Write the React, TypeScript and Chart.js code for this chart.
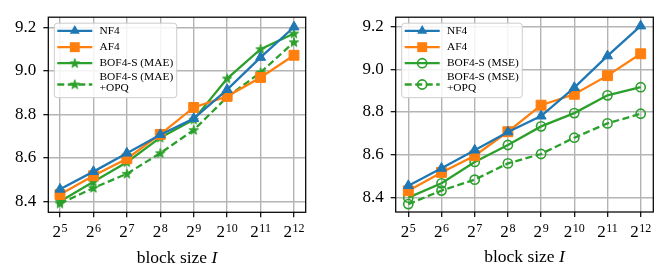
import React, { useEffect, useRef } from 'react';
import { Chart, registerables } from 'chart.js';

Chart.register(...registerables);

// ---------- data ----------
const exponents = [5, 6, 7, 8, 9, 10, 11, 12];
const yTickValues = [8.4, 8.6, 8.8, 9.0, 9.2];

const nf4 = [8.456, 8.537, 8.622, 8.707, 8.781, 8.914, 9.062, 9.202];
const af4 = [8.432, 8.518, 8.596, 8.708, 8.832, 8.883, 8.970, 9.072];
const bofMae = [8.400, 8.490, 8.580, 8.693, 8.776, 8.965, 9.100, 9.172];
const bofMaeOpq = [8.390, 8.462, 8.527, 8.622, 8.728, 8.880, 8.993, 9.132];
const bofMse = [8.400, 8.467, 8.567, 8.646, 8.733, 8.795, 8.878, 8.916];
const bofMseOpq = [8.370, 8.433, 8.484, 8.560, 8.604, 8.680, 8.747, 8.792];

const labelsMae = [['NF4'], ['AF4'], ['BOF4-S (MAE)'], ['BOF4-S (MAE)', '+OPQ']];
const labelsMse = [['NF4'], ['AF4'], ['BOF4-S (MSE)'], ['BOF4-S (MSE)', '+OPQ']];

const xTitle = 'block size ';
const xTitleVar = 'I';
const tickBase = '2';

// ---------- styles ----------
const BLUE = '#1f77b4';
const ORANGE = '#ff7f0e';
const GREEN = '#2ca02c';
const FONT = '"Liberation Serif", "Times New Roman", serif';
const LINE_W = 2.3;
const DASH = [7, 3.5];

function makeStar(color: string): HTMLCanvasElement {
  const c = document.createElement('canvas');
  const s = 12;
  c.width = s;
  c.height = s;
  const ctx = c.getContext('2d')!;
  const cx = s / 2;
  const cy = s / 2 + 0.3;
  const ro = 4.9;
  const ri = 1.9;
  ctx.beginPath();
  for (let i = 0; i < 10; i++) {
    const r = i % 2 === 0 ? ro : ri;
    const a = -Math.PI / 2 + (i * Math.PI) / 5;
    const px = cx + r * Math.cos(a);
    const py = cy + r * Math.sin(a);
    if (i === 0) ctx.moveTo(px, py);
    else ctx.lineTo(px, py);
  }
  ctx.closePath();
  ctx.fillStyle = color;
  ctx.fill();
  ctx.strokeStyle = color;
  ctx.lineWidth = 1;
  ctx.stroke();
  return c;
}

type Marker = 'triangle' | 'rect' | 'star' | 'circle';

interface SeriesDef {
  values: number[];
  color: string;
  marker: Marker;
  dashed: boolean;
}

function datasetFor(s: SeriesDef, label: string, star: HTMLCanvasElement) {
  const base: any = {
    label,
    data: exponents.map((e, i) => ({ x: e, y: s.values[i] })),
    borderColor: s.color,
    backgroundColor: s.color,
    borderWidth: LINE_W,
    borderDash: s.dashed ? DASH : [],
    fill: false,
    tension: 0,
    pointBorderColor: s.color,
    pointBackgroundColor: s.color,
    pointBorderWidth: 1,
  };
  if (s.marker === 'triangle') {
    base.pointStyle = 'triangle';
    base.pointRadius = 5.8;
  } else if (s.marker === 'rect') {
    base.pointStyle = 'rect';
    base.pointRadius = 7;
  } else if (s.marker === 'star') {
    base.pointStyle = star;
    base.pointRadius = 6;
  } else {
    base.pointStyle = 'circle';
    base.pointRadius = 4.6;
    base.pointBackgroundColor = 'rgba(0,0,0,0)';
    base.pointBorderWidth = 1.6;
  }
  return base;
}

function drawMarker(ctx: CanvasRenderingContext2D, s: SeriesDef, x: number, y: number, star: HTMLCanvasElement) {
  ctx.save();
  ctx.setLineDash([]);
  ctx.fillStyle = s.color;
  ctx.strokeStyle = s.color;
  if (s.marker === 'triangle') {
    const r = 5.8;
    ctx.beginPath();
    for (let i = 0; i < 3; i++) {
      const a = -Math.PI / 2 + (i * 2 * Math.PI) / 3;
      const px = x + r * Math.cos(a);
      const py = y + r * Math.sin(a);
      if (i === 0) ctx.moveTo(px, py);
      else ctx.lineTo(px, py);
    }
    ctx.closePath();
    ctx.fill();
  } else if (s.marker === 'rect') {
    const h = 7 * Math.SQRT1_2;
    ctx.fillRect(x - h, y - h, 2 * h, 2 * h);
  } else if (s.marker === 'star') {
    ctx.drawImage(star, x - star.width / 2, y - star.height / 2);
  } else {
    ctx.lineWidth = 1.6;
    ctx.beginPath();
    ctx.arc(x, y, 4.6, 0, Math.PI * 2);
    ctx.stroke();
  }
  ctx.restore();
}

interface PanelCfg {
  series: SeriesDef[];
  labels: string[][];
  yMin: number;
  yMax: number;
  xMin: number;
  xMax: number;
  yAxisWidth: number;
  padRight: number;
  padTop: number;
  xAxisHeight: number;
}

function makePlugin(cfg: PanelCfg, star: HTMLCanvasElement) {
  return {
    id: 'panelDecor',
    afterDraw(chart: any) {
      const ctx: CanvasRenderingContext2D = chart.ctx;
      const a = chart.chartArea;
      const xs = chart.scales.x;
      ctx.save();

      // frame
      ctx.strokeStyle = '#000';
      ctx.lineWidth = 1.25;
      ctx.setLineDash([]);
      ctx.strokeRect(a.left, a.top, a.right - a.left, a.bottom - a.top);

      // x tick labels 2^e
      ctx.fillStyle = '#000';
      ctx.textAlign = 'left';
      ctx.textBaseline = 'alphabetic';
      exponents.forEach((e) => {
        const px = xs.getPixelForValue(e);
        ctx.font = `17px ${FONT}`;
        const wb = ctx.measureText(tickBase).width;
        ctx.font = `12px ${FONT}`;
        const ws = ctx.measureText(String(e)).width;
        const gap = 0.6;
        const x0 = px - (wb + gap + ws) / 2;
        ctx.font = `17px ${FONT}`;
        ctx.fillText(tickBase, x0, a.bottom + 25);
        ctx.font = `12px ${FONT}`;
        ctx.fillText(String(e), x0 + wb + gap, a.bottom + 20);
      });

      // x title
      ctx.font = `17.5px ${FONT}`;
      const w1 = ctx.measureText(xTitle).width;
      ctx.font = `italic 17.5px ${FONT}`;
      const w2 = ctx.measureText(xTitleVar).width;
      const cx = (a.left + a.right) / 2;
      const tx = cx - (w1 + w2) / 2;
      ctx.font = `17.5px ${FONT}`;
      ctx.fillText(xTitle, tx, a.bottom + 50.4);
      ctx.font = `italic 17.5px ${FONT}`;
      ctx.fillText(xTitleVar, tx + w1, a.bottom + 50.4);

      // legend
      const fontSize = 11.4;
      ctx.font = `${fontSize}px ${FONT}`;
      let maxW = 0;
      cfg.labels.forEach((lines) => lines.forEach((l) => (maxW = Math.max(maxW, ctx.measureText(l).width))));
      const bx = a.left + 6;
      const by = a.top + 6;
      const padL = 3;
      const handleLen = 35;
      const textGap = 7.2;
      const bw = padL + handleLen + textGap + maxW + 3.5;
      const bh = 74.5;
      const rr = 3;
      ctx.beginPath();
      ctx.moveTo(bx + rr, by);
      ctx.lineTo(bx + bw - rr, by);
      ctx.arcTo(bx + bw, by, bx + bw, by + rr, rr);
      ctx.lineTo(bx + bw, by + bh - rr);
      ctx.arcTo(bx + bw, by + bh, bx + bw - rr, by + bh, rr);
      ctx.lineTo(bx + rr, by + bh);
      ctx.arcTo(bx, by + bh, bx, by + bh - rr, rr);
      ctx.lineTo(bx, by + rr);
      ctx.arcTo(bx, by, bx + rr, by, rr);
      ctx.closePath();
      ctx.fillStyle = 'rgba(255,255,255,0.85)';
      ctx.fill();
      ctx.strokeStyle = '#cccccc';
      ctx.lineWidth = 1;
      ctx.stroke();

      const rows = [
        { handle: 7.7, text: [7.9] },
        { handle: 24, text: [24.2] },
        { handle: 40, text: [40.2] },
        { handle: 61.3, text: [54, 64.4] },
      ];
      cfg.series.forEach((s, i) => {
        const r = rows[i];
        const hy = by + r.handle;
        const hx0 = bx + padL;
        ctx.save();
        ctx.strokeStyle = s.color;
        ctx.lineWidth = LINE_W;
        ctx.setLineDash(s.dashed ? DASH : []);
        ctx.beginPath();
        ctx.moveTo(hx0, hy);
        ctx.lineTo(hx0 + handleLen, hy);
        ctx.stroke();
        ctx.restore();
        drawMarker(ctx, s, hx0 + handleLen / 2, hy, star);
        ctx.fillStyle = '#000';
        ctx.font = `${fontSize}px ${FONT}`;
        ctx.textBaseline = 'middle';
        cfg.labels[i].forEach((l, j) => {
          ctx.fillText(l, hx0 + handleLen + textGap, by + r.text[j]);
        });
        ctx.textBaseline = 'alphabetic';
      });

      ctx.restore();
    },
  };
}

function Panel({ cfg }: { cfg: PanelCfg }) {
  const ref = useRef<HTMLCanvasElement | null>(null);
  useEffect(() => {
    if (!ref.current) return;
    const star = makeStar(GREEN);
    const chart = new Chart(ref.current, {
      type: 'line',
      data: {
        datasets: cfg.series.map((s, i) => datasetFor(s, cfg.labels[i].join(' '), star)),
      },
      options: {
        animation: false,
        responsive: false,
        events: [],
        layout: { padding: { left: 0, top: cfg.padTop, right: cfg.padRight, bottom: 0 } },
        plugins: { legend: { display: false }, tooltip: { enabled: false }, title: { display: false } },
        scales: {
          x: {
            type: 'linear',
            min: cfg.xMin,
            max: cfg.xMax,
            afterBuildTicks: (scale: any) => {
              scale.ticks = exponents.map((v) => ({ value: v }));
            },
            afterFit: (scale: any) => {
              scale.height = cfg.xAxisHeight;
            },
            ticks: { display: false },
            border: { display: false },
            grid: {
              color: '#b4b4b4',
              lineWidth: 1.4,
              tickColor: '#000',
              tickLength: 5,
              tickWidth: 1.2,
              drawTicks: true,
            },
          },
          y: {
            type: 'linear',
            min: cfg.yMin,
            max: cfg.yMax,
            afterBuildTicks: (scale: any) => {
              scale.ticks = yTickValues.map((v) => ({ value: v }));
            },
            afterFit: (scale: any) => {
              scale.width = cfg.yAxisWidth;
            },
            ticks: {
              color: '#000',
              font: { family: FONT, size: 17 },
              padding: 7,
              callback: (v: any) => Number(v).toFixed(1),
            },
            border: { display: false },
            grid: {
              color: '#b4b4b4',
              lineWidth: 1.4,
              tickColor: '#000',
              tickLength: 5,
              tickWidth: 1.2,
              drawTicks: true,
            },
          },
        },
      } as any,
      plugins: [makePlugin(cfg, star)],
    });
    return () => chart.destroy();
  }, [cfg]);
  return <canvas ref={ref} width={333} height={278} style={{ display: 'block', width: 333, height: 278 }} />;
}

const leftCfg: PanelCfg = {
  series: [
    { values: nf4, color: BLUE, marker: 'triangle', dashed: false },
    { values: af4, color: ORANGE, marker: 'rect', dashed: false },
    { values: bofMae, color: GREEN, marker: 'star', dashed: false },
    { values: bofMaeOpq, color: GREEN, marker: 'star', dashed: true },
  ],
  labels: labelsMae,
  yMin: 8.35,
  yMax: 9.247,
  xMin: 4.65,
  xMax: 12.35,
  yAxisWidth: 48.3,
  padRight: 27.3,
  padTop: 12.2,
  xAxisHeight: 65.7,
};

const rightCfg: PanelCfg = {
  series: [
    { values: nf4, color: BLUE, marker: 'triangle', dashed: false },
    { values: af4, color: ORANGE, marker: 'rect', dashed: false },
    { values: bofMse, color: GREEN, marker: 'circle', dashed: false },
    { values: bofMseOpq, color: GREEN, marker: 'circle', dashed: true },
  ],
  labels: labelsMse,
  yMin: 8.333,
  yMax: 9.243,
  xMin: 4.62,
  xMax: 12.38,
  yAxisWidth: 62.7,
  padRight: 12.7,
  padTop: 12.3,
  xAxisHeight: 66,
};

export default function App() {
  return (
    <div
      style={{
        position: 'fixed',
        left: 0,
        top: 0,
        width: 666,
        height: 278,
        background: '#fff',
        display: 'flex',
        flexDirection: 'row',
      }}
    >
      <Panel cfg={leftCfg} />
      <Panel cfg={rightCfg} />
    </div>
  );
}
